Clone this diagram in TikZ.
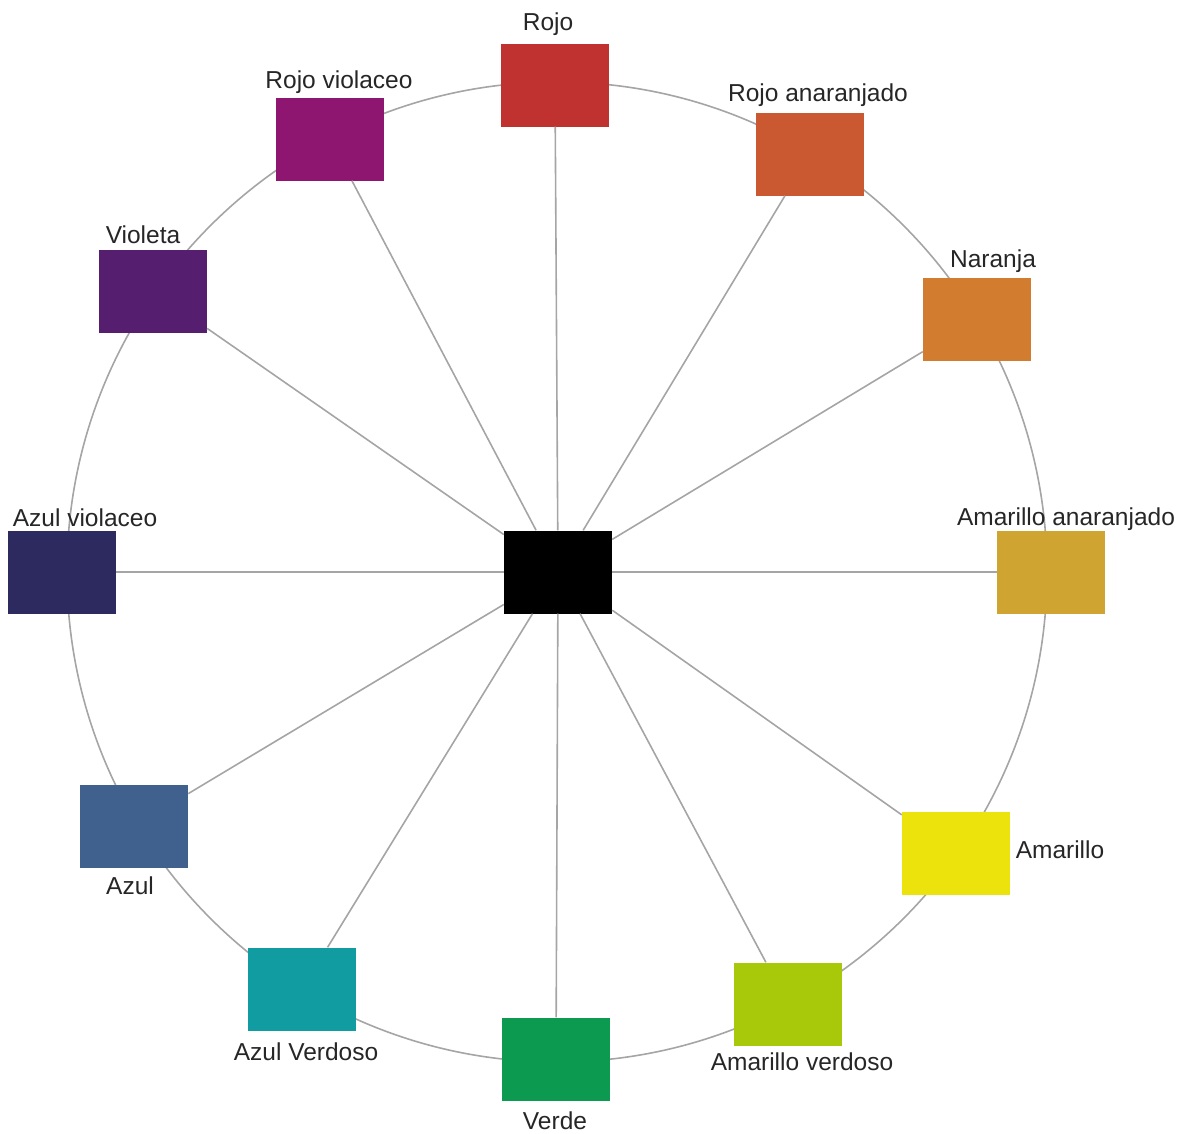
\documentclass[tikz,border=0pt]{standalone}
\usepackage{fontspec}
\setmainfont{Liberation Sans}
\definecolor{cRojo}{RGB}{192,50,48}
\definecolor{cRojoAn}{RGB}{202,88,48}
\definecolor{cNaranja}{RGB}{210,124,48}
\definecolor{cAmAn}{RGB}{208,164,48}
\definecolor{cAmarillo}{RGB}{236,226,12}
\definecolor{cAmVer}{RGB}{168,200,10}
\definecolor{cVerde}{RGB}{12,154,80}
\definecolor{cAzVer}{RGB}{16,156,160}
\definecolor{cAzul}{RGB}{64,96,142}
\definecolor{cAzVio}{RGB}{44,42,94}
\definecolor{cVioleta}{RGB}{86,30,110}
\definecolor{cRojoVio}{RGB}{142,22,112}
\definecolor{lineg}{RGB}{165,165,165}
\begin{document}
\begin{tikzpicture}[x=1pt,y=-1pt,
  sw/.style={rectangle,minimum width=108pt,minimum height=83pt,inner sep=0pt,draw=none,fill=#1},
  lbl/.style={font=\fontsize{24.5}{28}\selectfont,inner sep=0pt,text=black!85},
  conn/.style={draw=lineg,line width=1.6pt}]
\path[use as bounding box] (0,0) rectangle (1194,1133);
\coordinate (o) at (557,572);
\draw[conn] (o) circle[radius=490];
\node[sw=black] (c) at (558,572) {};
\node[sw=cRojo] (r1) at (555,85) {};
\node[sw=cRojoAn] (r2) at (810,154) {};
\node[sw=cNaranja] (r3) at (977,319) {};
\node[sw=cAmAn] (r4) at (1051,572) {};
\node[sw=cAmarillo] (r5) at (956,853) {};
\node[sw=cAmVer] (r6) at (788,1004) {};
\node[sw=cVerde] (r7) at (556,1059) {};
\node[sw=cAzVer] (r8) at (302,989) {};
\node[sw=cAzul] (r9) at (134,826) {};
\node[sw=cAzVio] (r10) at (62,572) {};
\node[sw=cVioleta] (r11) at (153,291) {};
\node[sw=cRojoVio] (r12) at (330,139) {};
\foreach \i in {1,...,12} {\draw[conn] (c) -- (r\i);}
\node[lbl] (t1) at (548,24) {Rojo};
\node[lbl] (t2) at (818,95) {Rojo anaranjado};
\node[lbl] (t3) at (993,261) {Naranja};
\node[lbl] (t4) at (1066,519) {Amarillo anaranjado};
\node[lbl] (t5) at (1060,850) {Amarillo};
\node[lbl] (t6) at (802,1062) {Amarillo verdoso};
\node[lbl] (t7) at (555,1121) {Verde};
\node[lbl] (t8) at (306,1052) {Azul Verdoso};
\node[lbl] (t9) at (130,886) {Azul};
\node[lbl] (t10) at (85,518) {Azul violaceo};
\node[lbl] (t11) at (143,235) {Violeta};
\node[lbl] (t12) at (339,82) {Rojo violaceo};
\end{tikzpicture}
\end{document}
